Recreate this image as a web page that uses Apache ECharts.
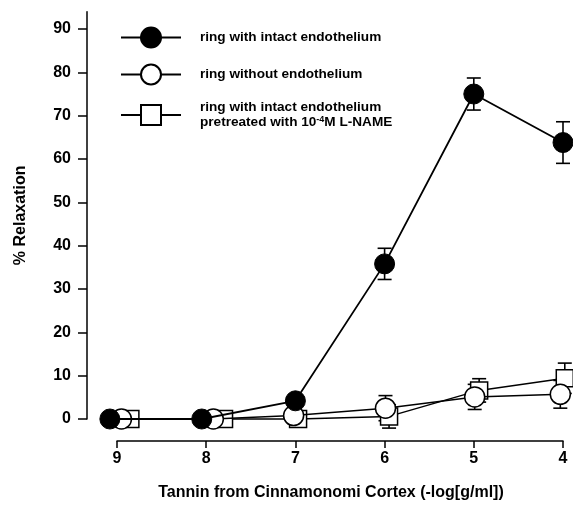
<!DOCTYPE html>
<html>
<head>
<meta charset="utf-8">
<script src="https://cdn.jsdelivr.net/npm/echarts@6/dist/echarts.min.js"></script>
<style>html,body{margin:0;padding:0;background:#fff}#c{width:573px;height:508px}</style>
</head>
<body>
<div id="c"></div>
<script>
// x positions (-log[g/ml]); markers slightly offset as in the figure
var intactX  = [9.08, 8.05, 7.0, 6.0, 5.0, 4.0];
var intactY  = [0, 0, 4.2, 35.8, 75.0, 63.8];
var intactErr = [0, 0, 0, 3.6, 3.7, 4.8];

var denudedX = [8.95, 7.92, 7.02, 5.99, 4.99, 4.03];
var denudedY = [0, 0, 0.8, 2.5, 5.1, 5.7];
var denudedErr = [0, 0, 0, 2.9, 2.9, 3.2];

var nameX    = [8.85, 7.8, 6.97, 5.95, 4.94, 3.98];
var nameY    = [0, 0, 0, 0.6, 6.6, 9.4];
var nameErr  = [0, 0, 0, 2.7, 2.7, 3.5];

var xTicks = [9, 8, 7, 6, 5, 4];
var yTicks = [0, 10, 20, 30, 40, 50, 60, 70, 80, 90];

var legendNames = ['ring with intact endothelium', 'ring without endothelium', 'ring with intact endothelium pretreated with 10-4M L-NAME'];

function pairs(xs, ys) { return xs.map(function (x, i) { return [x, ys[i]]; }); }
function errs(xs, ys, es) {
  var out = [];
  xs.forEach(function (x, i) { if (es[i] > 0) out.push([x, ys[i] - es[i], ys[i] + es[i]]); });
  return out;
}
function errItem(params, api) {
  var x = api.value(0);
  var p1 = api.coord([x, api.value(1)]);
  var p2 = api.coord([x, api.value(2)]);
  var w = 7;
  var st = { stroke: '#000', lineWidth: 1.6 };
  return { type: 'group', children: [
    { type: 'line', shape: { x1: p1[0], y1: p1[1], x2: p2[0], y2: p2[1] }, style: st },
    { type: 'line', shape: { x1: p1[0] - w, y1: p1[1], x2: p1[0] + w, y2: p1[1] }, style: st },
    { type: 'line', shape: { x1: p2[0] - w, y1: p2[1], x2: p2[0] + w, y2: p2[1] }, style: st }
  ]};
}

var FONT = 'Liberation Sans';
var chart = echarts.init(document.getElementById('c'));
var gTop = 11.7, gBottom = 89;
chart.setOption({
  animation: false,
  backgroundColor: '#fff',
  textStyle: { fontFamily: FONT },
  grid: [
    { left: 87, right: 10, top: gTop, bottom: gBottom },
    { left: 117, right: 10, top: gTop, bottom: gBottom }
  ],
  xAxis: [
    { gridIndex: 0, type: 'value', min: 0, max: 1, show: false },
    { gridIndex: 1, type: 'value', min: 4, max: 9, interval: 1, inverse: true, offset: 22,
      axisLine: { show: true, onZero: false, lineStyle: { color: '#000', width: 1.5 } },
      axisTick: { show: true, inside: false, length: 7, lineStyle: { color: '#000', width: 1.5 } },
      axisLabel: { color: '#000', fontSize: 16, fontWeight: 'bold', fontFamily: FONT, margin: 10 },
      splitLine: { show: false } }
  ],
  yAxis: [
    { gridIndex: 0, type: 'value', min: 0, max: 94,
      name: '% Relaxation', nameLocation: 'middle', nameGap: 58, nameRotate: 90,
      nameTextStyle: { color: '#000', fontSize: 16, fontWeight: 'bold', fontFamily: FONT },
      axisLine: { show: true, lineStyle: { color: '#000', width: 1.5 } },
      axisTick: { show: true, length: 9, customValues: yTicks, lineStyle: { color: '#000', width: 1.5 } },
      axisLabel: { customValues: yTicks, color: '#000', fontSize: 16, fontWeight: 'bold', fontFamily: FONT, margin: 16 },
      splitLine: { show: false } },
    { gridIndex: 1, type: 'value', min: 0, max: 94, show: false }
  ],
  legend: {
    orient: 'vertical', left: 115, top: 21.5, itemWidth: 60, itemHeight: 25, itemGap: 15,
    data: legendNames,
    formatter: function (n) {
      if (n === legendNames[2]) return '{a|ring with intact endothelium}\n{a|pretreated with 10}{s|-4}{a|M L-NAME}';
      return '{a|' + n + '}';
    },
    textStyle: { color: '#000', padding: [0, 0, 0, 14],
      rich: { a: { fontSize: 13.6, fontWeight: 'bold', fontFamily: FONT, lineHeight: 15, color: '#000' },
              s: { fontSize: 9, fontWeight: 'bold', fontFamily: FONT, verticalAlign: 'top', lineHeight: 15, color: '#000' } } }
  },
  graphic: [
    { type: 'text', x: 331, y: 485, style: { text: 'Tannin from Cinnamonomi Cortex (-log[g/ml])', fill: '#000', font: 'bold 16px "Liberation Sans"', textAlign: 'center', textVerticalAlign: 'top' } }
  ],
  series: [
    { type: 'custom', xAxisIndex: 1, yAxisIndex: 1, z: 1, renderItem: errItem, data: errs(nameX, nameY, nameErr), silent: true },
    { type: 'custom', xAxisIndex: 1, yAxisIndex: 1, z: 1, renderItem: errItem, data: errs(denudedX, denudedY, denudedErr), silent: true },
    { type: 'custom', xAxisIndex: 1, yAxisIndex: 1, z: 1, renderItem: errItem, data: errs(intactX, intactY, intactErr), silent: true },
    { name: legendNames[2], type: 'line', xAxisIndex: 1, yAxisIndex: 1, z: 2, clip: false,
      data: pairs(nameX, nameY), symbol: 'rect', symbolSize: 17,
      lineStyle: { color: '#000', width: 1.5 }, itemStyle: { color: '#fff', borderColor: '#000', borderWidth: 1.5 } },
    { name: legendNames[1], type: 'line', xAxisIndex: 1, yAxisIndex: 1, z: 3, clip: false,
      data: pairs(denudedX, denudedY), symbol: 'circle', symbolSize: 20,
      lineStyle: { color: '#000', width: 1.5 }, itemStyle: { color: '#fff', borderColor: '#000', borderWidth: 1.5 } },
    { name: legendNames[0], type: 'line', xAxisIndex: 1, yAxisIndex: 1, z: 4, clip: false,
      data: pairs(intactX, intactY), symbol: 'circle', symbolSize: 20,
      lineStyle: { color: '#000', width: 1.8 }, itemStyle: { color: '#000', borderColor: '#000', borderWidth: 1 } }
  ]
});
</script>
</body>
</html>
